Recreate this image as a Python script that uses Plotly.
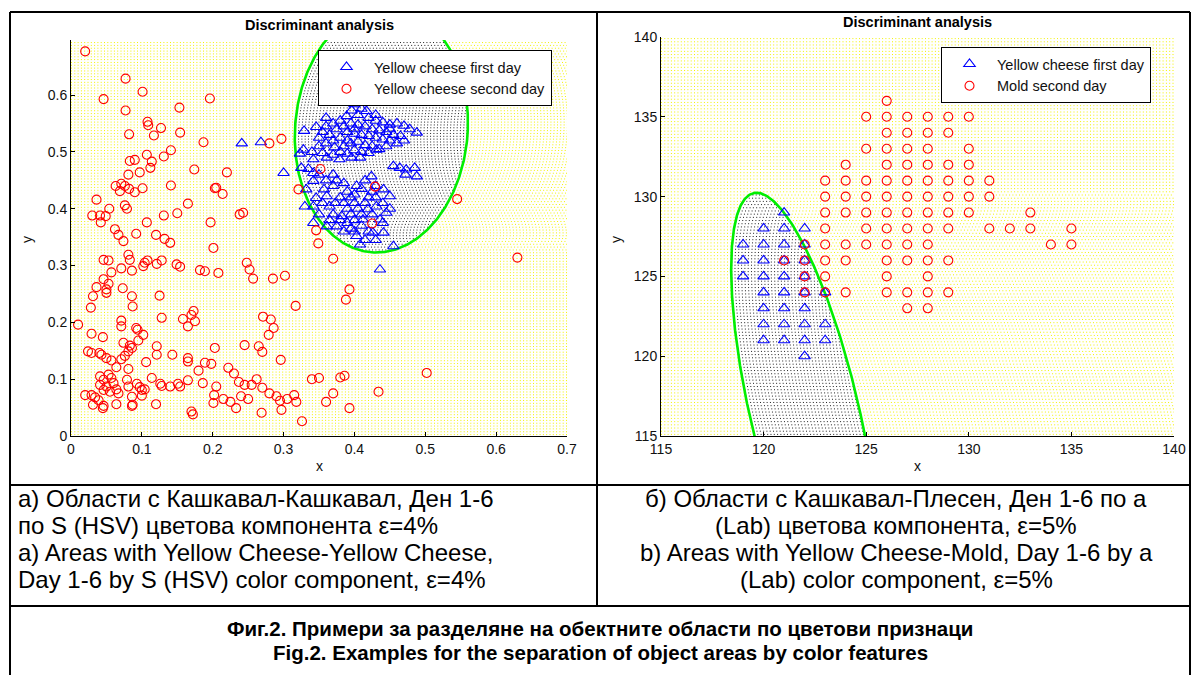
import numpy as np
import plotly.graph_objects as go

W_PX, H_PX = 1194, 675

# ---------------- Left panel: S (HSV), Yellow cheese day 1 vs day 2 ----------------
left_first = [
    (0.400, 0.584), (0.410, 0.576), (0.417, 0.572), (0.389, 0.563), (0.396, 0.573), (0.405, 0.565),
    (0.420, 0.560), (0.430, 0.555), (0.440, 0.552), (0.450, 0.548), (0.460, 0.550), (0.470, 0.546),
    (0.478, 0.540), (0.488, 0.534), (0.380, 0.555), (0.370, 0.550), (0.360, 0.545), (0.355, 0.535),
    (0.350, 0.525), (0.365, 0.530), (0.375, 0.540), (0.385, 0.545), (0.395, 0.550), (0.405, 0.548),
    (0.415, 0.545), (0.425, 0.540), (0.435, 0.538), (0.445, 0.535), (0.455, 0.530), (0.465, 0.528),
    (0.470, 0.520), (0.460, 0.515), (0.450, 0.520), (0.440, 0.522), (0.430, 0.525), (0.420, 0.528),
    (0.410, 0.530), (0.400, 0.532), (0.390, 0.535), (0.380, 0.525), (0.370, 0.520), (0.360, 0.515),
    (0.372, 0.508), (0.385, 0.510), (0.395, 0.515), (0.405, 0.518), (0.415, 0.512), (0.425, 0.510),
    (0.435, 0.505), (0.445, 0.510), (0.431, 0.504), (0.420, 0.498), (0.410, 0.500), (0.400, 0.503),
    (0.390, 0.497), (0.380, 0.500), (0.370, 0.495), (0.361, 0.490), (0.379, 0.487), (0.396, 0.490),
    (0.408, 0.490), (0.346, 0.544), (0.329, 0.537), (0.328, 0.504), (0.323, 0.497), (0.325, 0.472),
    (0.342, 0.487), (0.342, 0.463), (0.455, 0.475), (0.464, 0.472), (0.473, 0.469), (0.485, 0.472),
    (0.488, 0.457), (0.472, 0.460), (0.241, 0.515), (0.268, 0.517), (0.300, 0.463), (0.360, 0.560),
    (0.430, 0.565), (0.450, 0.540), (0.400, 0.540), (0.390, 0.520), (0.350, 0.510), (0.340, 0.500),
    (0.355, 0.498),
    (0.342, 0.449), (0.332, 0.434), (0.357, 0.434), (0.346, 0.419), (0.330, 0.404), (0.342, 0.404),
    (0.361, 0.422), (0.365, 0.404), (0.373, 0.410), (0.380, 0.420), (0.382, 0.387), (0.403, 0.440),
    (0.410, 0.435), (0.424, 0.457), (0.441, 0.434), (0.450, 0.422), (0.342, 0.375), (0.361, 0.369),
    (0.375, 0.369), (0.403, 0.352), (0.408, 0.337), (0.426, 0.358), (0.441, 0.358), (0.455, 0.334),
    (0.436, 0.293), (0.419, 0.399), (0.431, 0.404), (0.445, 0.393), (0.436, 0.381), (0.412, 0.381),
    (0.370, 0.440), (0.375, 0.450), (0.385, 0.445), (0.390, 0.430), (0.395, 0.420), (0.400, 0.410),
    (0.405, 0.400), (0.390, 0.400), (0.385, 0.410), (0.395, 0.390), (0.400, 0.380), (0.410, 0.390),
    (0.415, 0.410), (0.420, 0.420), (0.425, 0.430), (0.430, 0.440), (0.415, 0.450), (0.400, 0.425),
    (0.390, 0.375), (0.380, 0.380), (0.370, 0.390), (0.365, 0.380), (0.395, 0.365), (0.410, 0.370),
    (0.420, 0.360), (0.385, 0.360), (0.350, 0.390), (0.355, 0.410), (0.360, 0.450), (0.350, 0.460),
    (0.335, 0.470), (0.370, 0.460), (0.430, 0.420), (0.440, 0.410), (0.425, 0.390), (0.440, 0.375),
    (0.450, 0.400), (0.400, 0.360), (0.430, 0.345), (0.415, 0.345),
]

left_second = [
    (0.020, 0.677), (0.077, 0.629), (0.101, 0.606), (0.046, 0.593), (0.196, 0.594), (0.077, 0.573),
    (0.153, 0.578), (0.108, 0.553), (0.109, 0.547), (0.127, 0.542), (0.082, 0.531), (0.117, 0.529),
    (0.154, 0.534), (0.187, 0.517), (0.141, 0.503), (0.107, 0.495), (0.131, 0.492), (0.083, 0.484),
    (0.090, 0.486), (0.114, 0.483), (0.112, 0.472), (0.097, 0.464), (0.174, 0.469), (0.081, 0.460),
    (0.063, 0.440), (0.071, 0.444), (0.076, 0.440), (0.069, 0.431), (0.082, 0.435), (0.090, 0.429),
    (0.101, 0.436), (0.141, 0.441), (0.203, 0.436), (0.036, 0.416), (0.076, 0.406), (0.079, 0.400),
    (0.054, 0.400), (0.165, 0.409), (0.030, 0.388), (0.041, 0.388), (0.049, 0.387), (0.042, 0.376),
    (0.107, 0.376), (0.131, 0.388), (0.150, 0.392), (0.197, 0.376), (0.062, 0.364), (0.067, 0.354),
    (0.092, 0.356), (0.120, 0.354), (0.132, 0.347),
    (0.140, 0.340), (0.201, 0.331), (0.074, 0.343), (0.081, 0.319), (0.046, 0.310), (0.053, 0.309),
    (0.083, 0.310), (0.104, 0.305), (0.108, 0.309), (0.128, 0.309), (0.121, 0.303), (0.149, 0.302),
    (0.154, 0.298), (0.071, 0.295), (0.086, 0.291), (0.102, 0.299), (0.182, 0.292), (0.189, 0.290),
    (0.208, 0.287), (0.057, 0.288), (0.046, 0.276), (0.053, 0.268), (0.036, 0.262), (0.050, 0.258),
    (0.073, 0.260), (0.050, 0.252), (0.031, 0.246), (0.086, 0.246), (0.125, 0.247), (0.028, 0.226),
    (0.087, 0.228), (0.173, 0.220), (0.170, 0.213), (0.128, 0.208), (0.158, 0.206), (0.175, 0.202),
    (0.165, 0.193), (0.071, 0.203), (0.071, 0.193), (0.010, 0.196), (0.092, 0.190), (0.094, 0.187),
    (0.102, 0.178), (0.029, 0.180), (0.045, 0.174), (0.095, 0.168), (0.074, 0.164), (0.083, 0.159),
    (0.086, 0.155), (0.121, 0.158), (0.203, 0.155), (0.024, 0.149), (0.029, 0.146), (0.040, 0.146),
    (0.043, 0.143), (0.081, 0.149), (0.076, 0.141), (0.121, 0.143), (0.143, 0.143), (0.050, 0.137),
    (0.071, 0.135), (0.057, 0.133), (0.165, 0.137), (0.165, 0.131), (0.106, 0.130), (0.189, 0.129),
    (0.198, 0.127), (0.064, 0.121), (0.081, 0.118), (0.180, 0.115), (0.041, 0.105), (0.046, 0.099),
    (0.053, 0.108), (0.057, 0.102), (0.060, 0.093), (0.050, 0.087), (0.041, 0.090), (0.046, 0.081),
    (0.055, 0.078), (0.064, 0.082), (0.067, 0.075), (0.079, 0.099), (0.081, 0.087), (0.093, 0.092),
    (0.097, 0.086), (0.100, 0.081), (0.104, 0.082), (0.114, 0.102), (0.126, 0.092), (0.128, 0.088),
    (0.140, 0.087), (0.151, 0.092), (0.154, 0.087), (0.165, 0.098), (0.186, 0.093), (0.205, 0.087),
    (0.020, 0.072), (0.029, 0.072), (0.034, 0.068), (0.031, 0.055), (0.039, 0.063), (0.046, 0.053),
    (0.064, 0.056), (0.086, 0.069), (0.087, 0.055), (0.100, 0.071), (0.120, 0.056), (0.170, 0.043),
    (0.172, 0.038), (0.201, 0.058), (0.202, 0.072), (0.045, 0.049), (0.086, 0.053), (0.233, 0.049),
    (0.269, 0.041), (0.297, 0.046), (0.326, 0.026), (0.393, 0.049),
    (0.220, 0.464), (0.205, 0.437), (0.214, 0.426), (0.238, 0.390), (0.243, 0.393), (0.280, 0.515),
    (0.297, 0.523), (0.352, 0.470), (0.429, 0.439), (0.425, 0.374), (0.321, 0.434), (0.346, 0.362),
    (0.349, 0.339), (0.370, 0.312), (0.302, 0.282), (0.545, 0.417), (0.630, 0.314), (0.502, 0.111),
    (0.248, 0.305), (0.252, 0.293), (0.257, 0.277), (0.285, 0.277), (0.271, 0.210), (0.282, 0.205),
    (0.286, 0.190), (0.317, 0.229), (0.279, 0.178), (0.245, 0.160), (0.265, 0.158), (0.270, 0.148),
    (0.296, 0.134), (0.222, 0.120), (0.230, 0.110), (0.237, 0.095), (0.245, 0.090), (0.255, 0.090),
    (0.262, 0.100), (0.270, 0.085), (0.280, 0.075), (0.290, 0.070), (0.295, 0.062), (0.305, 0.065),
    (0.315, 0.072), (0.318, 0.060), (0.250, 0.065), (0.240, 0.070), (0.225, 0.060), (0.215, 0.065),
    (0.340, 0.100), (0.350, 0.102), (0.380, 0.103), (0.386, 0.106), (0.370, 0.075), (0.360, 0.060),
    (0.388, 0.240), (0.393, 0.258), (0.434, 0.078),
]

left_first_x = [p[0] for p in left_first]
left_first_y = [p[1] for p in left_first]
left_second_x = [p[0] for p in left_second]
left_second_y = [p[1] for p in left_second]

# ---------------- Right panel: a (Lab), Yellow cheese day 1 vs Mold day 2 ----------------
right_first = [
    (121, 129),
    (120, 128), (121, 128), (122, 128),
    (119, 127), (120, 127), (121, 127), (122, 127),
    (119, 126), (120, 126), (121, 126), (122, 126),
    (119, 125), (120, 125), (121, 125), (122, 125),
    (120, 124), (121, 124), (122, 124), (123, 124),
    (120, 123), (121, 123), (122, 123),
    (120, 122), (121, 122), (122, 122), (123, 122),
    (120, 121), (121, 121), (122, 121), (123, 121),
    (122, 120),
]
right_second = [
    (126, 136),
    (125, 135), (126, 135), (127, 135), (128, 135), (129, 135), (130, 135),
    (126, 134), (127, 134), (128, 134), (129, 134),
    (125, 133), (126, 133), (127, 133), (128, 133), (130, 133),
    (124, 132), (126, 132), (127, 132), (128, 132), (129, 132), (130, 132),
    (123, 131), (124, 131), (125, 131), (126, 131), (127, 131), (128, 131), (129, 131), (130, 131), (131, 131),
    (123, 130), (124, 130), (125, 130), (126, 130), (127, 130), (128, 130), (129, 130), (130, 130), (131, 130),
    (123, 129), (124, 129), (125, 129), (126, 129), (127, 129), (128, 129), (129, 129), (130, 129), (133, 129),
    (123, 128), (125, 128), (126, 128), (127, 128), (128, 128), (129, 128), (131, 128), (132, 128), (133, 128), (135, 128),
    (122, 127), (123, 127), (124, 127), (125, 127), (126, 127), (127, 127), (128, 127), (134, 127), (135, 127),
    (121, 126), (122, 126), (123, 126), (124, 126), (126, 126), (127, 126), (128, 126), (129, 126),
    (122, 125), (123, 125), (126, 125), (128, 125),
    (122, 124), (123, 124), (124, 124), (126, 124), (127, 124), (128, 124), (129, 124),
    (127, 123), (128, 123),
]
right_first_x = [p[0] for p in right_first]
right_first_y = [p[1] for p in right_first]
right_second_x = [p[0] for p in right_second]
right_second_y = [p[1] for p in right_second]

# Discriminant boundaries (ellipses)
left_bnd = dict(cx=0.438, cy=0.539, hw=0.122, hh=0.216, shear=0.033)
right_bnd = dict(cx=122.01, cy=116.39, hw=2.71, hh=13.85, shear=-0.17)

left_range_x, left_range_y = [0, 0.7], [0, 0.697]
right_range_x, right_range_y = [115, 140], [115, 140]
left_ticks_x = [0, 0.1, 0.2, 0.3, 0.4, 0.5, 0.6, 0.7]
left_ticks_y = [0, 0.1, 0.2, 0.3, 0.4, 0.5, 0.6]
left_ticktext_x = ["0", "0.1", "0.2", "0.3", "0.4", "0.5", "0.6", "0.7"]
left_ticktext_y = ["0", "0.1", "0.2", "0.3", "0.4", "0.5", "0.6"]
right_ticks = [115, 120, 125, 130, 135, 140]

# classifier evaluation grid row spacing (data units)
left_grid_step = 0.005
right_grid_step = 0.2

caption_left = [
    "а) Области с Кашкавал-Кашкавал, Ден 1-6",
    "по S (HSV) цветова компонента ε=4%",
    "a) Areas with Yellow Cheese-Yellow Cheese,",
    "Day 1-6 by S (HSV) color component, ε=4%",
]
caption_right = [
    "б) Области с Кашкавал-Плесен, Ден 1-6 по а",
    "(Lab) цветова компонента, ε=5%",
    "b) Areas with Yellow Cheese-Mold, Day 1-6 by a",
    "(Lab) color component, ε=5%",
]
figure_caption = [
    "Фиг.2. Примери за разделяне на обектните области по цветови признаци",
    "Fig.2. Examples for the separation of object areas by color features",
]


def px_x(p):
    return p / W_PX


def px_y(p):
    return 1 - p / H_PX


def chord(b, y):
    t = (y - b["cy"]) / b["hh"]
    if abs(t) >= 1:
        return None
    half = b["hw"] * np.sqrt(1 - t * t)
    mid = b["cx"] + b["shear"] * (y - b["cy"])
    return mid - half, mid + half


def grid_rows(b, xr, yr, step):
    yx, yy, kx, ky = [], [], [], []
    for y in np.arange(yr[0] + step / 2, yr[1], step):
        c = chord(b, y)
        if c is None:
            yx += [xr[0], xr[1], None]
            yy += [y, y, None]
            continue
        l, r = max(c[0], xr[0]), min(c[1], xr[1])
        if l > xr[0]:
            yx += [xr[0], l, None]
            yy += [y, y, None]
        if r < xr[1]:
            yx += [r, xr[1], None]
            yy += [y, y, None]
        if r > l:
            kx += [l, r, None]
            ky += [y, y, None]
    return yx, yy, kx, ky


def ellipse(b):
    t = np.linspace(0, 2 * np.pi, 500)
    y = b["cy"] + b["hh"] * np.sin(t)
    x = b["cx"] + b["shear"] * (y - b["cy"]) + b["hw"] * np.cos(t)
    return x, y


fig = go.Figure()

DOT = "1px,2.3px"
panels = [
    ("x", "y", left_bnd, left_range_x, left_range_y, left_grid_step,
     left_first_x, left_first_y, left_second_x, left_second_y,
     "Yellow cheese first day", "Yellow cheese second day", "legend"),
    ("x2", "y2", right_bnd, right_range_x, right_range_y, right_grid_step,
     right_first_x, right_first_y, right_second_x, right_second_y,
     "Yellow cheese first day", "Mold second day", "legend2"),
]
for xa, ya, b, xr, yr, st, fx, fy, sx, sy, n1, n2, lg in panels:
    yx, yy, kx, ky = grid_rows(b, xr, yr, st)
    fig.add_trace(go.Scatter(x=yx, y=yy, xaxis=xa, yaxis=ya, mode="lines",
                             line=dict(color="#f2f200", width=1, dash=DOT),
                             showlegend=False, hoverinfo="skip"))
    fig.add_trace(go.Scatter(x=kx, y=ky, xaxis=xa, yaxis=ya, mode="lines",
                             line=dict(color="#202020", width=1, dash=DOT),
                             showlegend=False, hoverinfo="skip"))
    ex, ey = ellipse(b)
    fig.add_trace(go.Scatter(x=ex, y=ey, xaxis=xa, yaxis=ya, mode="lines",
                             line=dict(color="#00ee00", width=2.6),
                             showlegend=False, hoverinfo="skip"))
    fig.add_trace(go.Scatter(x=fx, y=fy, xaxis=xa, yaxis=ya, mode="markers", name=n1,
                             marker=dict(symbol="triangle-up-open", size=10, color="#0000ff",
                                         line=dict(width=1.1, color="#0000ff")),
                             legend=lg, legendgroup=lg + "a"))
    fig.add_trace(go.Scatter(x=sx, y=sy, xaxis=xa, yaxis=ya, mode="markers", name=n2,
                             marker=dict(symbol="circle-open", size=9, color="#ff0000",
                                         line=dict(width=1.1, color="#ff0000")),
                             legend=lg, legendgroup=lg + "b"))

sans = "Arial, Liberation Sans, sans-serif"
tickfont = dict(family=sans, size=14, color="#111")
axis_common = dict(showgrid=False, zeroline=False, showline=True, linecolor="#000",
                   linewidth=1, ticks="inside", ticklen=4, tickwidth=1, tickcolor="#000",
                   tickfont=tickfont, mirror=False, automargin=False)
legend_common = dict(xanchor="left", yanchor="top", bordercolor="#000", borderwidth=1,
                     bgcolor="white", itemwidth=45, tracegroupgap=0,
                     font=dict(family=sans, size=14.5, color="#111"))

fig.update_layout(
    width=W_PX, height=H_PX, margin=dict(l=0, r=0, t=0, b=0, autoexpand=False),
    paper_bgcolor="white", plot_bgcolor="white",
    xaxis=dict(domain=[px_x(71), px_x(567)], range=left_range_x, tickvals=left_ticks_x,
               ticktext=left_ticktext_x, anchor="y", **axis_common),
    yaxis=dict(domain=[px_y(436), px_y(40)], range=left_range_y, tickvals=left_ticks_y,
               ticktext=left_ticktext_y, anchor="x", **axis_common),
    xaxis2=dict(domain=[px_x(661), px_x(1174)], range=right_range_x, tickvals=right_ticks,
                anchor="y2", **axis_common),
    yaxis2=dict(domain=[px_y(436), px_y(37)], range=right_range_y, tickvals=right_ticks,
                anchor="x2", **axis_common),
    legend=dict(x=px_x(318), y=px_y(50), **legend_common),
    legend2=dict(x=px_x(941), y=px_y(47), **legend_common),
)

ann = []
# plot titles and axis labels
for cxp, typ in [(319, 25), (917, 22)]:
    ann.append(dict(x=px_x(cxp), y=px_y(typ), text="<b>Discriminant analysis</b>", showarrow=False,
                    xref="paper", yref="paper", xanchor="center", yanchor="middle",
                    font=dict(family=sans, size=14.5, color="#000")))
for cxp in [319, 917]:
    ann.append(dict(x=px_x(cxp), y=px_y(466), text="x", showarrow=False, xref="paper", yref="paper",
                    xanchor="center", yanchor="middle", font=dict(family=sans, size=14, color="#111")))
for lxp in [27, 616]:
    ann.append(dict(x=px_x(lxp), y=px_y(240), text="y", showarrow=False, xref="paper", yref="paper",
                    xanchor="center", yanchor="middle", textangle=-90,
                    font=dict(family=sans, size=14, color="#111")))
# captions
for i, line in enumerate(caption_left):
    ann.append(dict(x=px_x(16), y=px_y(498 + 27 * i), text=line, showarrow=False, xref="paper",
                    yref="paper", xanchor="left", yanchor="middle",
                    font=dict(family=sans, size=24, color="#000")))
for i, line in enumerate(caption_right):
    ann.append(dict(x=px_x(896), y=px_y(498 + 27 * i), text=line, showarrow=False, xref="paper",
                    yref="paper", xanchor="center", yanchor="middle",
                    font=dict(family=sans, size=24, color="#000")))
for i, line in enumerate(figure_caption):
    ann.append(dict(x=px_x(600), y=px_y(628 + 24 * i), text="<b>" + line + "</b>", showarrow=False,
                    xref="paper", yref="paper", xanchor="center", yanchor="middle",
                    font=dict(family=sans, size=20.5, color="#000")))
fig.update_layout(annotations=ann)

# table borders
shapes = []
def hline(y, x0, x1):
    shapes.append(dict(type="line", xref="paper", yref="paper", x0=px_x(x0), x1=px_x(x1),
                       y0=px_y(y), y1=px_y(y), line=dict(color="#000", width=2)))
def vline(x, y0, y1):
    shapes.append(dict(type="line", xref="paper", yref="paper", x0=px_x(x), x1=px_x(x),
                       y0=px_y(y0), y1=px_y(y1), line=dict(color="#000", width=2)))
hline(12, 10, 1190)
hline(485, 10, 1190)
hline(606, 10, 1190)
vline(10, 12, 675)
vline(1190, 12, 675)
vline(597, 12, 606)
fig.update_layout(shapes=shapes)

fig.write_html("out.html", config={"displayModeBar": False},
               post_script="document.body.style.margin='0px';document.body.style.overflow='hidden';")
